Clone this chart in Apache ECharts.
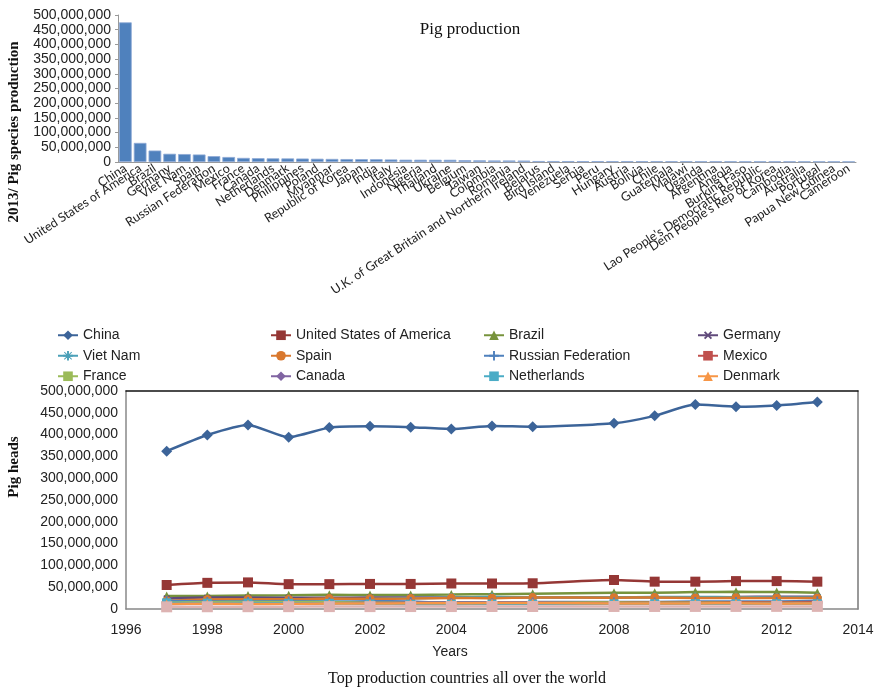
<!DOCTYPE html>
<html>
<head>
<meta charset="utf-8">
<script src="https://cdn.jsdelivr.net/npm/echarts@6/dist/echarts.min.js"></script>
<style>
  html, body { margin: 0; padding: 0; background: #fff; }
  #chart { width: 882px; height: 689px; }
</style>
</head>
<body>
<div id="chart"></div>
<script>
// Top chart: 2013 production by country (millions of heads)
const countries = ['China', 'United States of America', 'Brazil', 'Germany', 'Viet Nam', 'Spain',
  'Russian Federation', 'Mexico', 'France', 'Canada', 'Netherlands', 'Denmark', 'Philippines',
  'Poland', 'Myanmar', 'Republic of Korea', 'Japan', 'India', 'Italy', 'Indonesia', 'Nigeria',
  'Thailand', 'Ukraine', 'Belgium', 'Taiwan', 'Colombia', 'Romania',
  'U.K. of Great Britain and Northern Ireland', 'Belarus', 'Bird Island', 'Venezuela', 'Serbia',
  'Peru', 'Hungary', 'Austria', 'Bolivia', 'Chile', 'Guatemala', 'Malawi', 'Uganda', 'Argentina',
  'Angola', 'Burkina Faso', "Lao People's Democratic Republic", "Dem People's Rep of Korea",
  'Cambodia', 'Australia', 'Portugal', 'Papua New Guinea', 'Cameroon'];
const production2013 = [475, 65, 39, 28, 27, 25.5, 20, 17, 14, 13, 12.5, 12.3, 11.8, 11.1, 10.5,
  10, 9.7, 9.5, 8.6, 7.8, 7.7, 7.6, 7.5, 6.4, 5.8, 5.3, 5.2, 4.9, 3.3, 3.2, 3.1, 3.0, 3.0, 2.95,
  2.9, 2.8, 2.75, 2.7, 2.5, 2.4, 2.3, 2.2, 2.1, 2.05, 2.0, 1.95, 1.9, 1.88, 1.8, 1.7];

// Bottom chart: pig heads per year (millions), 2007 is missing in the source
const years = [1997, 1998, 1999, 2000, 2001, 2002, 2003, 2004, 2005, 2006, 2008, 2009, 2010, 2011, 2012, 2013];
const china = [362, 399, 422, 394, 416, 419, 417, 413, 420, 418, 426, 443, 469, 464, 467, 475];
const usa = [55, 60, 61, 57, 57, 57.5, 57.5, 58.5, 58.5, 59, 66.5, 62.7, 62.7, 64, 64, 62.7];
const brazil = [30.0, 30.0, 30.8, 31.6, 32.6, 31.9, 32.3, 33.1, 34.1, 35.2, 37.0, 37.1, 38.9, 39.3, 38.8, 37.4];
const germany = [24.3, 26.3, 26.1, 25.8, 25.8, 26.3, 26.5, 26.5, 26.9, 26.8, 27.1, 26.9, 26.9, 27.4, 28.3, 28.1];
const vietNam = [17.6, 18.1, 18.9, 20.2, 21.8, 23.2, 24.9, 26.1, 27.4, 26.9, 26.7, 27.6, 27.4, 27.1, 26.5, 26.3];
const spain = [18.7, 21.7, 22.4, 22.1, 23.9, 23.5, 24.1, 25.0, 24.9, 26.2, 26.0, 26.3, 25.3, 25.6, 25.3, 25.5];
const russia = [19.1, 17.3, 17.3, 18.3, 16.2, 17.6, 17.3, 13.7, 13.8, 16.2, 16.2, 16.3, 17.2, 17.2, 17.3, 19.1];
const mexico = [13.9, 14.0, 14.0, 14.2, 14.7, 14.2, 14.4, 14.6, 14.6, 15.0, 15.2, 15.2, 15.4, 15.5, 15.4, 16.2];
const france = [15.0, 15.6, 16.2, 16.0, 15.6, 15.3, 15.2, 15.3, 15.1, 15.0, 14.8, 14.4, 14.3, 13.9, 13.7, 13.4];
const canada = [11.5, 12.4, 12.4, 12.6, 13.2, 14.4, 14.7, 14.7, 14.9, 14.7, 12.5, 11.9, 12.2, 12.7, 12.7, 12.9];
const netherlands = [14.2, 13.4, 13.6, 13.1, 13.0, 11.6, 11.0, 11.1, 11.3, 11.3, 12.0, 12.1, 12.3, 12.1, 12.2, 12.0];
const denmark = [11.4, 12.1, 11.6, 11.9, 12.6, 12.7, 13.1, 13.4, 13.5, 13.6, 12.9, 12.4, 12.9, 13.2, 12.3, 12.4];
const otherCountry = [5.0, 5.2, 5.3, 5.4, 5.5, 5.5, 5.6, 5.6, 5.7, 5.7, 5.8, 5.8, 5.9, 5.9, 6.0, 6.0];

const M = 1e6;
const fmt = v => Math.round(v).toLocaleString('en-US');
const chart = echarts.init(document.getElementById('chart'));

// marker shapes
const plusPath = 'path://M4,0H6V4H10V6H6V10H4V6H0V4H4Z';
const starPath = 'path://M4,0H6V4H10V6H6V10H4V6H0V4H4Z M1.5,0.8L5,4.3L8.5,0.8L9.2,1.5L5.7,5L9.2,8.5L8.5,9.2L5,5.7L1.5,9.2L0.8,8.5L4.3,5L0.8,1.5Z';

function lineSeries(name, vals, color, symbol, size, rot) {
  return {
    name: name,
    type: 'line',
    xAxisIndex: 1,
    yAxisIndex: 1,
    smooth: 0.2,
    data: years.map((y, i) => [y, vals[i] * M]),
    symbol: symbol,
    symbolSize: size,
    symbolRotate: rot || 0,
    lineStyle: { color: color, width: 2.5 },
    itemStyle: { color: color },
    animation: false
  };
}

const legendBase = {
  orient: 'vertical',
  top: 322,
  itemGap: 4,
  itemWidth: 20,
  itemHeight: 12,
  textStyle: { fontFamily: 'Liberation Sans, Arial', fontSize: 14, color: '#222', lineHeight: 16.5 }
};

const option = {
  animation: false,
  title: [
    {
      text: 'Pig production',
      left: 465, top: 16, textAlign: 'center',
      textStyle: { fontFamily: 'Liberation Serif, Times New Roman', fontSize: 17, fontWeight: 'normal', color: '#111' }
    },
    {
      text: 'Top production countries all over the world',
      left: 462, top: 666, textAlign: 'center',
      textStyle: { fontFamily: 'Liberation Serif, Times New Roman', fontSize: 16, fontWeight: 'normal', color: '#111' }
    }
  ],
  legend: [
    Object.assign({ left: 52, data: ['China', 'Viet Nam', 'France'] }, legendBase),
    Object.assign({ left: 265, data: ['United States of America', 'Spain', 'Canada'] }, legendBase),
    Object.assign({ left: 478, data: ['Brazil', 'Russian Federation', 'Netherlands'] }, legendBase),
    Object.assign({ left: 692, data: ['Germany', 'Mexico', 'Denmark'] }, legendBase)
  ],
  graphic: [
    {
      type: 'text', x: 14, y: 132, rotation: Math.PI / 2,
      style: { text: '2013/ Pig species production', align: 'center', verticalAlign: 'middle',
        font: 'bold 15px "Liberation Serif", "Times New Roman"', fill: '#111' }
    },
    {
      type: 'text', x: 14, y: 467, rotation: Math.PI / 2,
      style: { text: 'Pig heads', align: 'center', verticalAlign: 'middle',
        font: 'bold 15px "Liberation Serif", "Times New Roman"', fill: '#111' }
    },
    {
      type: 'text', x: 450, y: 652,
      style: { text: 'Years', align: 'center', verticalAlign: 'middle',
        font: '14px "Liberation Sans", Arial', fill: '#222' }
    }
  ],
  grid: [
    { left: 118, right: 26, top: 15, bottom: 527 },
    { left: 126, right: 24, top: 391, bottom: 80 }
  ],
  xAxis: [
    {
      type: 'category',
      gridIndex: 0,
      data: countries,
      axisLine: { lineStyle: { color: '#999' } },
      axisTick: { length: 4, lineStyle: { color: '#999' } },
      axisLabel: { interval: 0, rotate: 33, margin: 5, fontFamily: 'Lato', fontSize: 12.5, color: '#222' }
    },
    {
      type: 'value',
      gridIndex: 1,
      min: 1996, max: 2014, interval: 2,
      axisLine: { lineStyle: { color: '#888', width: 1.5 } },
      axisTick: { show: false },
      splitLine: { show: false },
      axisLabel: { margin: 14, formatter: v => String(v), fontFamily: 'Liberation Sans, Arial', fontSize: 14, color: '#222' }
    },
    {
      // frame top line
      type: 'value',
      gridIndex: 1,
      position: 'top',
      min: 0, max: 1,
      axisLine: { show: true, onZero: false, lineStyle: { color: '#111', width: 1.5 } },
      axisTick: { show: false },
      axisLabel: { show: false },
      splitLine: { show: false }
    }
  ],
  yAxis: [
    {
      type: 'value',
      gridIndex: 0,
      min: 0, max: 500 * M, interval: 50 * M,
      axisLine: { show: true, lineStyle: { color: '#999' } },
      axisTick: { show: true, length: 3, lineStyle: { color: '#999' } },
      splitLine: { show: false },
      axisLabel: { margin: 7, formatter: fmt, lineHeight: 12, showMinLabel: true, showMaxLabel: true, hideOverlap: false,
        fontFamily: 'Liberation Sans, Arial', fontSize: 14, color: '#222' }
    },
    {
      type: 'value',
      gridIndex: 1,
      min: 0, max: 500 * M, interval: 50 * M,
      axisLine: { show: true, lineStyle: { color: '#888', width: 1.5 } },
      axisTick: { show: false },
      splitLine: { show: false },
      axisLabel: { margin: 8, formatter: fmt, fontFamily: 'Liberation Sans, Arial', fontSize: 14, color: '#222' }
    },
    {
      // frame right line
      type: 'value',
      gridIndex: 1,
      position: 'right',
      min: 0, max: 1,
      axisLine: { show: true, onZero: false, lineStyle: { color: '#777', width: 1.5 } },
      axisTick: { show: false },
      axisLabel: { show: false },
      splitLine: { show: false }
    }
  ],
  series: [
    {
      name: 'Production 2013',
      type: 'bar',
      xAxisIndex: 0,
      yAxisIndex: 0,
      data: production2013.map(v => v * M),
      barCategoryGap: '14%',
      itemStyle: { color: '#4F81BD', borderColor: '#8EAAD6', borderWidth: 0.8 }
    },
    lineSeries('China', china, '#3C6499', 'diamond', 11),
    lineSeries('United States of America', usa, '#953735', 'rect', 10),
    lineSeries('Brazil', brazil, '#77933C', 'triangle', 9),
    lineSeries('Germany', germany, '#604A7B', plusPath, 8, 45),
    lineSeries('Viet Nam', vietNam, '#4BA0B8', starPath, 9),
    lineSeries('Spain', spain, '#D9782E', 'circle', 9),
    lineSeries('Russian Federation', russia, '#4F81BD', plusPath, 9),
    lineSeries('Mexico', mexico, '#C0504D', 'rect', [10, 3]),
    lineSeries('France', france, '#9BBB59', 'rect', [10, 2]),
    lineSeries('Canada', canada, '#8064A2', 'diamond', 9),
    lineSeries('Netherlands', netherlands, '#4BACC6', 'rect', 9),
    lineSeries('Denmark', denmark, '#F79646', 'triangle', 9),
    lineSeries('Other', otherCountry, '#DDB3B2', 'rect', 11)
  ]
};

chart.setOption(option);
</script>
</body>
</html>
